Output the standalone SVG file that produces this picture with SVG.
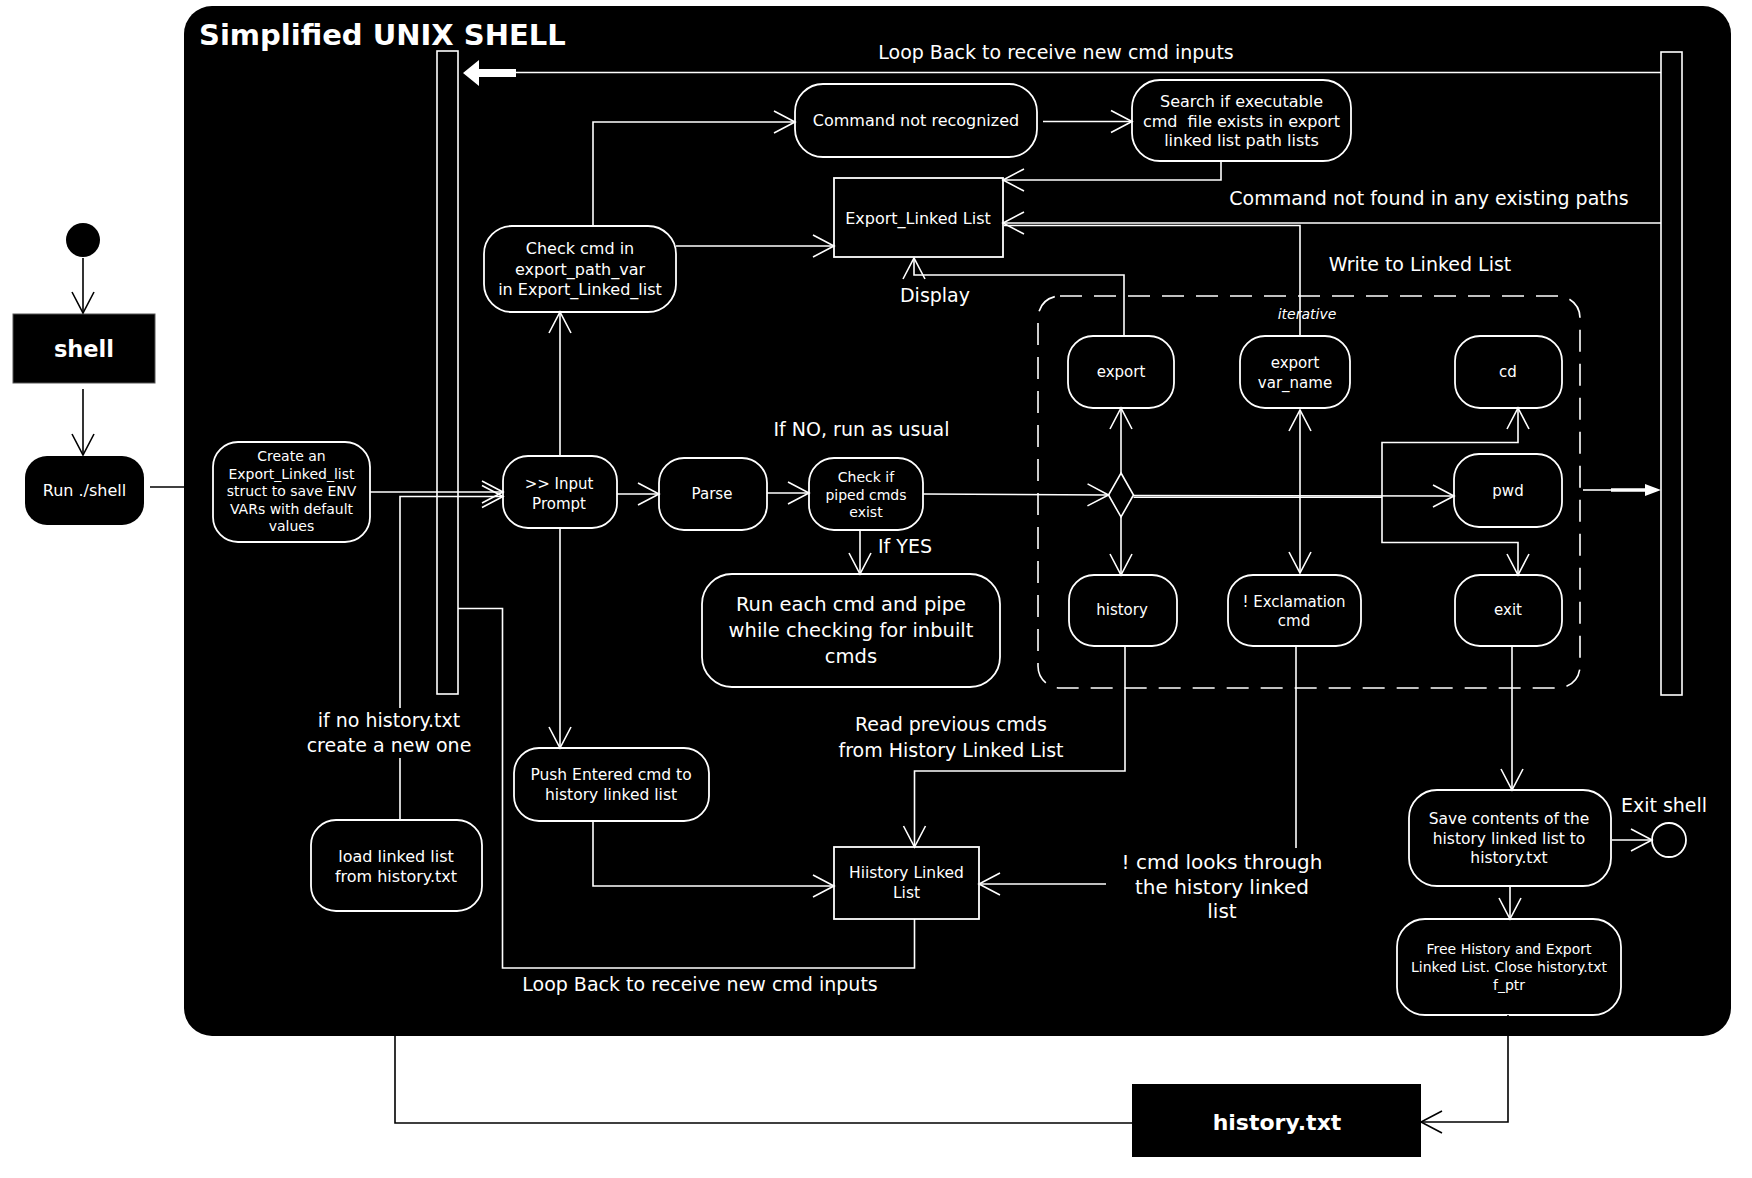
<svg xmlns="http://www.w3.org/2000/svg" width="1752" height="1178" viewBox="0 0 1752 1178">
<style>
text{font-family:"DejaVu Sans","Liberation Sans",sans-serif;fill:#fff;text-anchor:middle}
.n14{font-size:14px}.n15{font-size:15px}.n155{font-size:15.5px}.n16{font-size:16px}
.lbl{font-size:19px}
.node{fill:#000;stroke:#fff;stroke-width:1.8}
.bar{fill:#000;stroke:#fff;stroke-width:1.6}
.c{fill:none;stroke:#fff;stroke-width:1.6}
.cb{fill:none;stroke:#000;stroke-width:1.6}
.ah{marker-end:url(#a)}
.ahb{marker-end:url(#ab)}
</style>
<defs>
<marker id="a" viewBox="-24 -13 26 26" refX="0" refY="0" markerWidth="26" markerHeight="26" markerUnits="userSpaceOnUse" orient="auto-start-reverse"><path d="M-21,-11 L0,0 L-21,11" fill="none" stroke="#fff" stroke-width="1.6"/></marker>
<marker id="ab" viewBox="-24 -13 26 26" refX="0" refY="0" markerWidth="26" markerHeight="26" markerUnits="userSpaceOnUse" orient="auto"><path d="M-21,-11 L0,0 L-21,11" fill="none" stroke="#000" stroke-width="1.6"/></marker>
</defs>
<rect width="1752" height="1178" fill="#fff"/>

<g id="frame">
<rect x="184" y="6" width="1547" height="1030" rx="28" fill="#000"/>
<text x="199" y="45" style="font-size:29px;font-weight:bold;text-anchor:start">Simplified UNIX SHELL</text>
</g>

<g id="start"><circle cx="83" cy="240" r="17" fill="#000"/></g>
<g id="shell"><rect x="13" y="314" width="142" height="69" fill="#000" stroke="#555" stroke-width="1"/><text x="84" y="357" style="font-size:22.5px;font-weight:bold">shell</text></g>
<g id="run"><rect x="25" y="456" width="119" height="69" rx="22" fill="#000"/><text class="n16" x="84.5" y="495.5">Run ./shell</text></g>

<g id="bar-left"><rect class="bar" x="437" y="51" width="21" height="643"/></g>
<g id="bar-right"><rect class="bar" x="1661" y="52" width="21" height="643"/></g>

<g id="create"><rect class="node" x="213" y="442" width="157" height="100" rx="25"/>
<text class="n14" x="291.5" y="461">Create an</text><text class="n14" x="291.5" y="478.5">Export_Linked_list</text><text class="n14" x="291.5" y="496">struct to save ENV</text><text class="n14" x="291.5" y="513.5">VARs with default</text><text class="n14" x="291.5" y="531">values</text></g>

<g id="input"><rect class="node" x="503" y="456" width="114" height="72" rx="25"/><text class="n15" x="559" y="488.5">&gt;&gt; Input</text><text class="n15" x="559" y="508.5">Prompt</text></g>
<g id="parse"><rect class="node" x="659" y="458" width="108" height="72" rx="25"/><text class="n15" x="712" y="499">Parse</text></g>
<g id="checkpiped"><rect class="node" x="809" y="458" width="114" height="72" rx="25"/><text class="n14" x="866" y="482">Check if</text><text class="n14" x="866" y="499.5">piped cmds</text><text class="n14" x="866" y="517">exist</text></g>

<g id="checkcmd"><rect class="node" x="484" y="226" width="192" height="86" rx="28"/><text class="n16" x="580" y="254">Check cmd in</text><text class="n16" x="580" y="274.5">export_path_var</text><text class="n16" x="580" y="294.5">in Export_Linked_list</text></g>

<g id="notrecognized"><rect class="node" x="795" y="84" width="242" height="73" rx="28"/><text class="n16" x="916" y="125.5">Command not recognized</text></g>
<g id="search"><rect class="node" x="1132" y="80" width="219" height="81" rx="28"/><text class="n16" x="1241.5" y="107">Search if executable</text><text class="n16" x="1241.5" y="126.5" xml:space="preserve">cmd  file exists in export</text><text class="n16" x="1241.5" y="146">linked list path lists</text></g>
<g id="exportlist"><rect class="node" x="834" y="178" width="169" height="79"/><text class="n16" x="918" y="223.5">Export_Linked List</text></g>

<g id="runeach"><rect class="node" x="702" y="574" width="298" height="113" rx="30"/><text x="851" y="611" style="font-size:19.5px">Run each cmd and pipe</text><text x="851" y="637" style="font-size:19.5px">while checking for inbuilt</text><text x="851" y="663" style="font-size:19.5px">cmds</text></g>

<g id="push"><rect class="node" x="514" y="748" width="195" height="73" rx="25"/><text class="n155" x="611" y="779.5">Push Entered cmd to</text><text class="n155" x="611" y="800">history linked list</text></g>
<g id="load"><rect class="node" x="311" y="820" width="171" height="91" rx="25"/><text class="n16" x="396" y="861.5">load linked list</text><text class="n16" x="396" y="881.5">from history.txt</text></g>
<g id="historylist"><rect class="node" x="834" y="847" width="145" height="72"/><text class="n155" x="906.5" y="878">Hiistory Linked</text><text class="n155" x="906.5" y="898">List</text></g>

<g id="iterative"><rect x="1038" y="296" width="542" height="392" rx="22" fill="none" stroke="#fff" stroke-width="1.6" stroke-dasharray="22 12"/><text x="1307" y="319" style="font-size:14px;font-style:italic">iterative</text></g>

<g id="export"><rect class="node" x="1068" y="336" width="106" height="72" rx="25"/><text class="n15" x="1121" y="377">export</text></g>
<g id="exportvar"><rect class="node" x="1240" y="336" width="110" height="72" rx="25"/><text class="n15" x="1295" y="368">export</text><text class="n15" x="1295" y="388">var_name</text></g>
<g id="cd"><rect class="node" x="1455" y="336" width="107" height="72" rx="25"/><text class="n15" x="1508" y="377">cd</text></g>
<g id="pwd"><rect class="node" x="1454" y="454" width="108" height="73" rx="25"/><text class="n15" x="1508" y="496">pwd</text></g>
<g id="history"><rect class="node" x="1069" y="575" width="108" height="71" rx="25"/><text class="n15" x="1122" y="615">history</text></g>
<g id="exclamation"><rect class="node" x="1228" y="575" width="133" height="71" rx="25"/><text class="n15" x="1294" y="606.5">! Exclamation</text><text class="n15" x="1294" y="626">cmd</text></g>
<g id="exit"><rect class="node" x="1455" y="575" width="107" height="71" rx="25"/><text class="n15" x="1508" y="615">exit</text></g>
<g id="decision"><polygon points="1121,473 1133.5,495 1121,517 1108.5,495" fill="#000" stroke="#fff" stroke-width="1.6"/></g>

<g id="save"><rect class="node" x="1409" y="790" width="202" height="96" rx="28"/><text class="n155" x="1509" y="824">Save contents of the</text><text class="n155" x="1509" y="844">history linked list to</text><text class="n155" x="1509" y="863">history.txt</text></g>
<g id="free"><rect class="node" x="1397" y="919" width="224" height="96" rx="28"/><text class="n14" x="1509" y="954">Free History and Export</text><text class="n14" x="1509" y="972">Linked List. Close history.txt</text><text class="n14" x="1509" y="990">f_ptr</text></g>
<g id="end"><circle cx="1669" cy="840" r="17" fill="#000" stroke="#fff" stroke-width="1.8"/><text class="lbl" x="1664" y="812">Exit shell</text></g>

<g id="historytxt"><rect x="1132" y="1084" width="289" height="73" fill="#000"/><text x="1277" y="1130" style="font-size:22px;font-weight:bold">history.txt</text></g>

<g id="connectors">
<path class="cb ahb" d="M83,258 V313"/>
<path class="cb ahb" d="M83,389 V455"/>
<path class="cb" d="M150,487 H184"/>
<path class="c ah" d="M370,492 H503"/>
<path class="c" d="M400,820 V758"/>
<path class="c ah" d="M400,708 V496.5 H503"/>
<path class="c ah" d="M560,456 V312"/>
<path class="c ah" d="M593,226 V122 H795"/>
<path class="c ah" d="M676,246 H834"/>
<path class="c ah" d="M1043,121.5 H1132"/>
<path class="c ah" d="M1221,161 V180 H1003"/>
<path class="c ah" d="M1661,223 H1003"/>
<path class="c" d="M1300,336 V225.5 H1004"/>
<path class="c ah" d="M1124,336 V275 H914 V258"/>
<path class="c ah" d="M617,494 H659"/>
<path class="c ah" d="M767,493 H809"/>
<path class="c ah" d="M923,494 L1108.5,495"/>
<path class="c ah" d="M860,530 V574"/>
<path class="c ah" d="M1121,473 V408"/>
<path class="c ah" d="M1121,517 V575"/>
<path class="c ah" d="M1133.5,495.5 L1454,496"/>
<path class="c" d="M1133.5,497.3 H1382"/>
<path class="c ah" d="M1382,496 V442.5 H1518 V408"/>
<path class="c ah" d="M1382,496 V542.5 H1518 V575"/>
<path class="c ah" d="M1300,573 V410" style="marker-start:url(#a)"/>
<path class="c" d="M1583,490 H1612"/>
<polygon points="1611,488.3 1645,488.3 1645,484 1661,490 1645,496 1645,491.7 1611,491.7" fill="#fff"/>
<path class="c" d="M1661,72.5 H515"/>
<polygon points="516,69 479,69 479,60 463,73 479,86 479,77 516,77" fill="#fff"/>
<path class="c ah" d="M560,528 V748"/>
<path class="c ah" d="M593,821 V886 H834"/>
<path class="c ah" d="M1125,646 V771 H914.5 V847"/>
<path class="c" d="M1296,646 V848"/>
<path class="c ah" d="M1106,884 H979"/>
<path class="c ah" d="M1512,646 V790"/>
<path class="c ah" d="M1612,840 H1652"/>
<path class="c ah" d="M1510,886 V919"/>
<path class="c" d="M458,608.5 H502.5 V968 H914.5 V919"/>
<path class="cb ahb" d="M1508,1015 V1122 H1421"/>
<path class="cb" d="M395,1036 V1123 H1132"/>
</g>

<g id="labels">
<text class="lbl" x="1056" y="59">Loop Back to receive new cmd inputs</text>
<text class="lbl" x="1429" y="205">Command not found in any existing paths</text>
<text class="lbl" x="1420" y="271">Write to Linked List</text>
<text class="lbl" x="935" y="301.5">Display</text>
<text class="lbl" x="861.5" y="435.5">If NO, run as usual</text>
<text class="lbl" x="878" y="553" style="text-anchor:start">If YES</text>
<text class="lbl" x="389" y="727">if no history.txt</text>
<text class="lbl" x="389" y="752">create a new one</text>
<text class="lbl" x="951" y="731">Read previous cmds</text>
<text class="lbl" x="951" y="756.5">from History Linked List</text>
<text x="1222" y="869" style="font-size:20px">! cmd looks through</text>
<text x="1222" y="894" style="font-size:20px">the history linked</text>
<text x="1222" y="918" style="font-size:20px">list</text>
<text class="lbl" x="700" y="991">Loop Back to receive new cmd inputs</text>
</g>
</svg>
